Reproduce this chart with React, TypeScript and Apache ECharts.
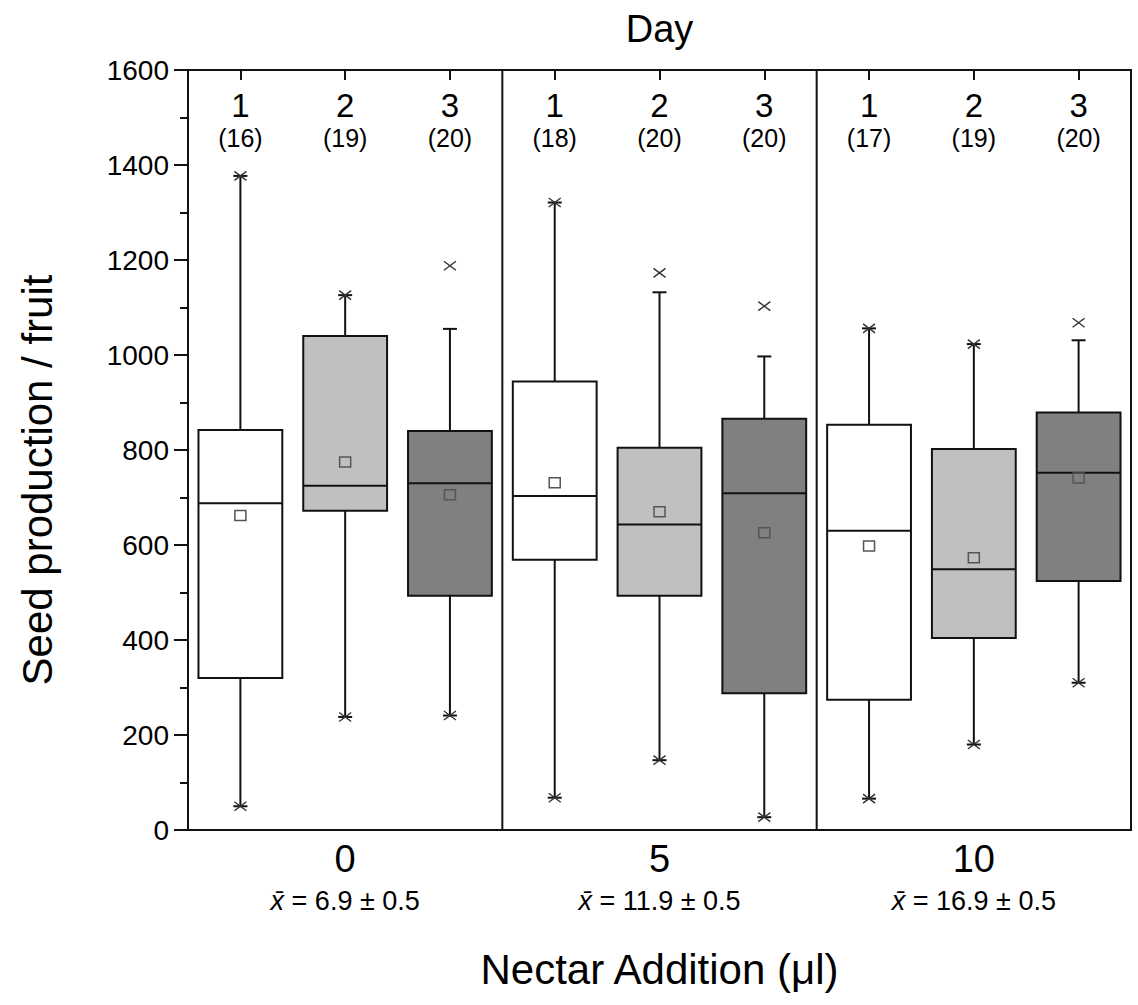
import React, { useEffect, useRef } from "react";
import * as echarts from "echarts";

// ---------- data ----------
const categories = ["0-1", "0-2", "0-3", "5-1", "5-2", "5-3", "10-1", "10-2", "10-3"];
const dayLabels = ["1", "2", "3", "1", "2", "3", "1", "2", "3"];
const sampleSizes = [16, 19, 20, 18, 20, 20, 17, 19, 20];
const groupLabels = ["0", "5", "10"];
const groupMeanTexts = ["6.9 ± 0.5", "11.9 ± 0.5", "16.9 ± 0.5"];
const dividerAfter = [2, 5];

const q1 = [320, 672, 493, 569, 493, 288, 274, 404, 524];
const median = [688, 725, 730, 703, 643, 709, 630, 549, 752];
const q3 = [842, 1040, 840, 944, 805, 866, 853, 802, 879];
const whiskerLow = [50, 238, 241, 68, 147, 27, 66, 180, 310];
const whiskerHigh = [1377, 1126, 1055, 1321, 1132, 997, 1056, 1023, 1031];
const means = [662, 775, 706, 731, 670, 626, 598, 573, 741];
const extremeMin = [50, 238, 241, 68, 147, 27, 66, 180, 310];
const extremeMax = [1377, 1126, 1188, 1321, 1173, 1103, 1056, 1023, 1068];

const yTicks = { min: 0, max: 1600, interval: 200 };

// ---------- style ----------
const FONT = "'Liberation Sans', Arial, Helvetica, sans-serif";
const INK = "#111";
const dayFills = ["#ffffff", "#c0c0c0", "#808080"];

function renderBox(params: any, api: any) {
  const idx = api.value(0);
  const cx = api.coord([idx, 0])[0];
  const band = api.size([1, 0])[0];
  const bw = band * 0.8;
  const y = (v: number) => api.coord([idx, v])[1];
  const yq1 = y(api.value(1));
  const ymed = y(api.value(2));
  const yq3 = y(api.value(3));
  const ywl = y(api.value(4));
  const ywh = y(api.value(5));
  const ymean = y(api.value(6));
  const ymin = y(api.value(7));
  const ymax = y(api.value(8));
  const capHalf = 7;
  const xHalfW = 6;
  const xHalfH = 4.5;
  const ls = { stroke: INK, lineWidth: 2 };
  const xs = { stroke: "#333", lineWidth: 1.4 };
  const cross = (yy: number) => [
    { type: "line", shape: { x1: cx - xHalfW, y1: yy - xHalfH, x2: cx + xHalfW, y2: yy + xHalfH }, style: xs },
    { type: "line", shape: { x1: cx - xHalfW, y1: yy + xHalfH, x2: cx + xHalfW, y2: yy - xHalfH }, style: xs },
  ];
  return {
    type: "group",
    children: [
      { type: "line", shape: { x1: cx, y1: yq3, x2: cx, y2: ywh }, style: ls },
      { type: "line", shape: { x1: cx, y1: yq1, x2: cx, y2: ywl }, style: ls },
      { type: "line", shape: { x1: cx - capHalf, y1: ywh, x2: cx + capHalf, y2: ywh }, style: ls },
      { type: "line", shape: { x1: cx - capHalf, y1: ywl, x2: cx + capHalf, y2: ywl }, style: ls },
      {
        type: "rect",
        shape: { x: cx - bw / 2, y: yq3, width: bw, height: yq1 - yq3 },
        style: { fill: dayFills[idx % 3], stroke: INK, lineWidth: 2 },
      },
      { type: "line", shape: { x1: cx - bw / 2, y1: ymed, x2: cx + bw / 2, y2: ymed }, style: ls },
      {
        type: "rect",
        shape: { x: cx - 5.5, y: ymean - 5, width: 11, height: 10 },
        style: { fill: "none", stroke: "#555", lineWidth: 1.5 },
      },
      ...cross(ymin),
      ...cross(ymax),
    ],
  };
}

function renderDivider(params: any, api: any) {
  const idx = api.value(0);
  const band = api.size([1, 0])[0];
  const x = api.coord([idx, 0])[0] + band / 2;
  const y1 = api.coord([idx, yTicks.min])[1];
  const y2 = api.coord([idx, yTicks.max])[1];
  return {
    type: "line",
    shape: { x1: x, y1, x2: x, y2 },
    style: { stroke: INK, lineWidth: 2 },
  };
}

export default function App() {
  const ref = useRef<HTMLDivElement>(null);
  useEffect(() => {
    if (!ref.current) return;
    const chart = echarts.init(ref.current, null, { renderer: "svg" });
    const boxData = categories.map((_, i) => [
      i,
      q1[i],
      median[i],
      q3[i],
      whiskerLow[i],
      whiskerHigh[i],
      means[i],
      extremeMin[i],
      extremeMax[i],
    ]);
    const option: any = {
      animation: false,
      textStyle: { fontFamily: FONT, color: "#000" },
      grid: {
        left: 188,
        right: 7,
        top: 70,
        bottom: 175,
        show: true,
        borderColor: INK,
        borderWidth: 2,
      },
      xAxis: [
        {
          type: "category",
          data: categories,
          position: "bottom",
          boundaryGap: true,
          axisLine: { lineStyle: { color: INK, width: 2 } },
          axisTick: { show: false },
          axisLabel: {
            interval: 0,
            margin: 8,
            color: "#000",
            fontFamily: FONT,
            formatter: (v: string, i: number) =>
              i % 3 === 1
                ? `{g|${groupLabels[(i - 1) / 3]}}\n{xi|x\u0304}{s| = ${groupMeanTexts[(i - 1) / 3]}}`
                : "",
            rich: {
              g: { fontSize: 38, lineHeight: 42, fontFamily: FONT, color: "#000" },
              xi: { fontSize: 27, lineHeight: 42, fontStyle: "italic", fontFamily: FONT, color: "#000" },
              s: { fontSize: 27, lineHeight: 42, fontFamily: FONT, color: "#000" },
            },
          },
          name: "Nectar Addition (\u03bcl)",
          nameLocation: "middle",
          nameGap: 118,
          nameTextStyle: { fontSize: 42, fontFamily: FONT, color: "#000" },
        },
        {
          type: "category",
          data: categories,
          position: "top",
          boundaryGap: true,
          axisLine: { lineStyle: { color: INK, width: 2 } },
          axisTick: { show: true, inside: true, length: 10, alignWithLabel: true, lineStyle: { color: INK, width: 2 } },
          axisLabel: {
            inside: true,
            interval: 0,
            margin: 18,
            color: "#000",
            formatter: (v: string, i: number) => `{d|${dayLabels[i]}}\n{n|(${sampleSizes[i]})}`,
            rich: {
              d: { fontSize: 33, lineHeight: 34, fontFamily: FONT, color: "#000" },
              n: { fontSize: 25, lineHeight: 32, fontFamily: FONT, color: "#000" },
            },
          },
          name: "Day",
          nameLocation: "middle",
          nameGap: 22,
          nameTextStyle: { fontSize: 38, fontFamily: FONT, color: "#000" },
        },
      ],
      yAxis: {
        type: "value",
        min: yTicks.min,
        max: yTicks.max,
        interval: yTicks.interval,
        axisLine: { show: true, lineStyle: { color: INK, width: 2 } },
        axisTick: { show: true, length: 14, lineStyle: { color: INK, width: 2 } },
        minorTick: { show: true, splitNumber: 2, length: 8, lineStyle: { color: INK, width: 2 } },
        splitLine: { show: false },
        axisLabel: {
          fontSize: 28,
          margin: 19,
          color: "#000",
          fontFamily: FONT,
          formatter: (v: number) => String(v),
        },
        name: "Seed production / fruit",
        nameLocation: "middle",
        nameGap: 130,
        nameTextStyle: { fontSize: 42, fontFamily: FONT, color: "#000", padding: [0, 60, 0, 0] },
      },
      series: [
        {
          type: "custom",
          xAxisIndex: 0,
          renderItem: renderDivider,
          data: dividerAfter.map((i) => [i]),
          encode: { x: 0 },
          silent: true,
          z: 1,
        },
        {
          type: "custom",
          xAxisIndex: 0,
          renderItem: renderBox,
          data: boxData,
          encode: { x: 0, y: [1, 2, 3, 4, 5, 6, 7, 8] },
          z: 2,
        },
      ],
    };
    chart.setOption(option);
    return () => chart.dispose();
  }, []);
  return (
    <div
      ref={ref}
      style={{ position: "absolute", left: 0, top: 0, width: 1138, height: 1005, background: "#fff" }}
    />
  );
}
